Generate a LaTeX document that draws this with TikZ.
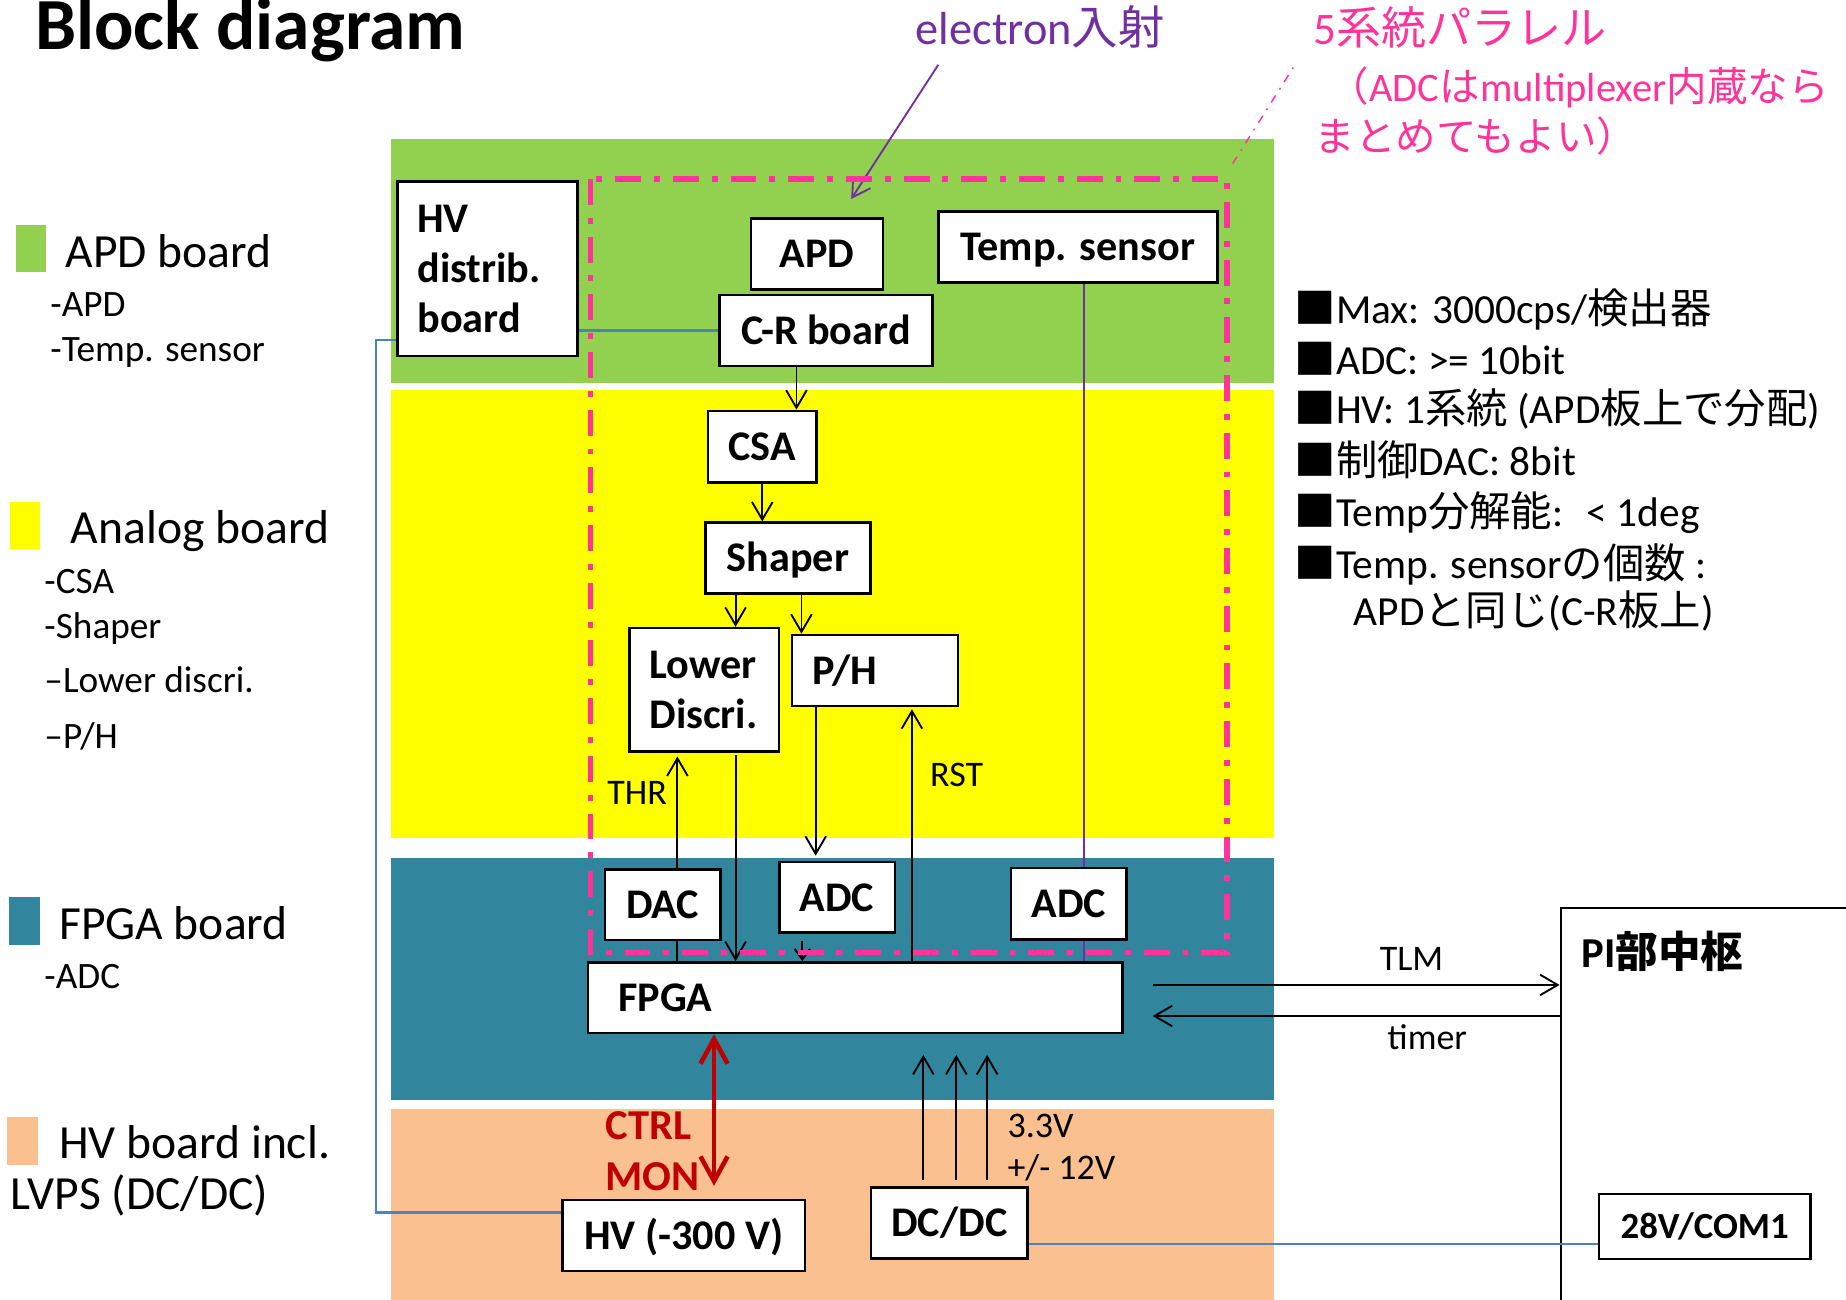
\documentclass[tikz,border=0pt]{standalone}
\usepackage{fontspec}
\setmainfont{Carlito}
\newfontfamily\jp{Noto Sans CJK JP}
\usetikzlibrary{arrows.meta}

\definecolor{apdgreen}{HTML}{92D050}
\definecolor{anayellow}{HTML}{FFFF00}
\definecolor{fpgateal}{HTML}{31859C}
\definecolor{hvpeach}{HTML}{FAC090}
\definecolor{grppink}{HTML}{FF3399}
\definecolor{epurple}{HTML}{7030A0}
\definecolor{hvblue}{HTML}{4F81BD}
\definecolor{ctrlred}{HTML}{C00000}

\newcommand{\fsz}[2]{\fontsize{#1}{#2}\selectfont}

\begin{document}
\begin{tikzpicture}[x=0.1mm,y=-0.1mm,line width=0.45pt,
  >={Straight Barb[length=1.5mm,width=1.75mm]},
  blk/.style={draw,fill=white,line width=0.6pt,inner xsep=1.7mm,
    font=\fsz{10.2}{12.1}\bfseries,text height=6.6pt,text depth=0pt},
  blkml/.style={draw,fill=white,line width=0.6pt,inner xsep=1.7mm,
    font=\fsz{10.2}{12.1}\bfseries,align=left},
  txt/.style={inner sep=0pt,anchor=base west},
  lbl/.style={font=\fsz{8.7}{10.4}},
  hvline/.style={hvblue,line width=0.6pt},
  tsline/.style={epurple,line width=0.55pt},
  ctrl/.style={ctrlred,line width=1.1pt,
    {Straight Barb[length=2.1mm,width=2.3mm]}-{Straight Barb[length=2.1mm,width=2.3mm]}},
  grpline/.style={grppink,line width=1.35pt,
    dash pattern=on 2.2mm off 1.1mm on 0.5mm off 1.1mm}]

\useasboundingbox (0,0) rectangle (1568,1104);
\clip (0,0) rectangle (1568,1104);

%--------------------
% 基板
%--------------------
\fill[apdgreen] (332,118) rectangle (1082,325);
\fill[anayellow] (332,331.5) rectangle (1082,712);
\fill[fpgateal] (332,729) rectangle (1082,934);
\fill[hvpeach] (332,942) rectangle (1082,1110);

% タイトル
\node[txt,font=\fsz{17.75}{21}\bfseries] (title) at (29,42) {Block diagram};

%--------------------
% 凡例
%--------------------
\fill[apdgreen] (14,191) rectangle (39,231);
\node[txt,font=\fsz{11.5}{13.8}] (lgApd) at (55,227.4) {APD board};
\node[txt,font=\fsz{9}{10.8}] (lgApdA) at (42,269) {-APD};
\node[txt,font=\fsz{9}{10.8}] (lgApdB) at (42,307) {-Temp. sensor};

\fill[anayellow] (8.5,426) rectangle (34,466);
\node[txt,font=\fsz{11.5}{13.8}] (lgAna) at (59.5,462) {Analog board};
\node[txt,font=\fsz{9}{10.8}] (lgAnaA) at (37,504) {-CSA};
\node[txt,font=\fsz{9}{10.8}] (lgAnaB) at (37,542) {-Shaper};
\node[txt,font=\fsz{9}{10.8}] (lgAnaC) at (37,588) {–Lower discri.};
\node[txt,font=\fsz{9}{10.8}] (lgAnaD) at (37,636) {–P/H};

\fill[fpgateal] (8,761.6) rectangle (34,802.7);
\node[txt,font=\fsz{11.5}{13.8}] (lgFpga) at (49.5,798.4) {FPGA board};
\node[txt,font=\fsz{9}{10.8}] (lgFpgaA) at (37,839.4) {-ADC};

\fill[hvpeach] (6,948.5) rectangle (32,989.5);
\node[txt,font=\fsz{11.5}{13.8}] (lgHv) at (49.5,983.7) {HV board incl.};
\node[txt,font=\fsz{11.5}{13.8}] (lgHvB) at (8.5,1027.7) {LVPS (DC/DC)};

%--------------------
% 注記
%--------------------
\node[txt,epurple,font=\fsz{11.2}{13.4}] (elec) at (777,38) {electron{\jp 入射}};
\node[txt,grppink,font=\fsz{10.9}{13}] (grpNote) at (1115,38) {5{\jp 系統パラレル}};
\node[txt,grppink,font=\fsz{9.8}{11.8}] (grpNoteB) at (1128,86.4)
  {{\jp （}ADC{\jp は}multiplexer{\jp 内蔵なら}};
\node[txt,grppink,font=\fsz{9.8}{11.8}] (grpNoteC) at (1116,129) {{\jp まとめてもよい）}};

\node[txt,font=\fsz{10}{12}] (spec1) at (1099,275) {{\jp ■}Max: 3000cps/{\jp 検出器}};
\node[txt,font=\fsz{10}{12}] (spec2) at (1099,318) {{\jp ■}ADC: >= 10bit};
\node[txt,font=\fsz{10}{12}] (spec3) at (1099,360) {{\jp ■}HV: 1{\jp 系統} (APD{\jp 板上で分配})};
\node[txt,font=\fsz{10}{12}] (spec4) at (1099,403.5) {{\jp ■制御}DAC: 8bit};
\node[txt,font=\fsz{10}{12}] (spec5) at (1099,447.4) {{\jp ■}Temp{\jp 分解能}:\hspace{2mm}< 1deg};
\node[txt,font=\fsz{10}{12}] (spec6) at (1099,491) {{\jp ■}Temp. sensor{\jp の個数} :};
\node[txt,font=\fsz{10}{12}] (spec7) at (1149,531) {APD{\jp と同じ}(C-R{\jp 板上})};

%--------------------
% ブロック
%--------------------
\node[blkml,text width=11.9mm,minimum height=14.8mm] (hvd) at (414,228.3) {HV\\distrib.\\board};
\node[blk,minimum width=11.2mm,minimum height=6mm] (apd) at (694,215.7) {APD};
\node[blk,minimum width=18.1mm,minimum height=6.05mm] (cr) at (701.5,280.8) {C-R board};
\node[blk,minimum width=23.7mm,minimum height=6.05mm] (temp) at (915.5,209.8) {Temp. sensor};
\node[blk,minimum width=9.2mm,minimum height=6.1mm] (csa) at (647.5,379.5) {CSA};
\node[blk,minimum width=14mm,minimum height=6mm] (shaper) at (669.2,474) {Shaper};
\node[blkml,text width=9.3mm,minimum height=10.5mm] (ld) at (598.2,586) {Lower\\Discri.};
\node[blk,text width=10.7mm,minimum height=6.05mm] (ph) at (743.3,569.6) {P/H};
\node[blk,minimum width=9.8mm,minimum height=6mm] (dac) at (563,768.4) {DAC};
\node[blk,minimum width=9.8mm,minimum height=6mm] (adc1) at (711,762.2) {ADC};
\node[blk,minimum width=9.8mm,minimum height=6.05mm] (adc2) at (907.8,767.6) {ADC};
\node[blk,text width=40.3mm,inner xsep=2.55mm,minimum height=6mm] (fpga) at (726.6,847.4) {FPGA};
\node[blk,minimum width=20.6mm,minimum height=6.03mm] (hv) at (580.8,1049.5) {HV (-300 V)};
\node[blk,minimum width=13.3mm,minimum height=6.02mm] (dcdc) at (806.4,1038.9) {DC/DC};

% PI部中枢
\node[draw,line width=0.5pt,anchor=north west,minimum width=40mm,minimum height=50mm] (pi) at (1324.7,770) {};
\node[txt,font=\fsz{10.3}{12.4}\bfseries] (piLbl) at (1342.5,821.5) {PI{\jp 部中枢}};
\node[blk,minimum width=18mm,minimum height=5.5mm,font=\fsz{8.9}{10.7}\bfseries,text height=5.7pt] (v28) at (1448,1041.8) {28V/COM1};

%--------------------
% 配線
%--------------------
% HV系
\draw[hvline] (cr.west) -- (cr.west -| hvd.east);
\draw[hvline] ([yshift=-6.07mm]hvd.west) -- ++(-17,0) |- ([yshift=1.95mm]hv.west);
\draw[hvline] ([yshift=-1.76mm]dcdc.east) -- ([yshift=-1.76mm]dcdc.east -| v28.west);

% 信号
\draw[->] ([xshift=2.9mm]csa.north |- cr.south) -- ([xshift=2.9mm]csa.north);
\draw[->] (csa.south) -- (csa.south |- shaper.north);
\draw[->] ([xshift=2.66mm]ld.north |- shaper.south) -- ([xshift=2.66mm]ld.north);
\draw[->] ([xshift=0.9mm]ph.north west |- shaper.south) -- ([xshift=0.9mm]ph.north west);

\draw[->] ([xshift=1.24mm]dac.north) -- ([xshift=1.24mm,yshift=-0.3mm]dac.north |- ld.south)
  node[lbl,left,pos=0.67,xshift=0.35mm] (thr) {THR};
\draw ([xshift=1.24mm]dac.south) -- ([xshift=1.24mm]dac.south |- fpga.north);
\draw[->] ([xshift=2.66mm,yshift=-0.2mm]ld.south) -- ([xshift=2.66mm]ld.south |- fpga.north);
\draw[->] ([xshift=2.11mm]ph.south west) -- ([xshift=2.11mm,yshift=0.43mm]ph.south west |- adc1.north);
\draw[-{Straight Barb[length=0.9mm,width=1.3mm]}] ([xshift=-2.95mm,yshift=-0.6mm]adc1.south)
  -- ([xshift=-2.95mm]adc1.south |- fpga.north);
\draw[->] ([xshift=3.13mm]ph.south |- fpga.north) -- ([xshift=3.13mm,yshift=-0.15mm]ph.south)
  node[lbl,right,pos=0.74,xshift=0.3mm] (rst) {RST};

% 温度センサ
\draw[tsline] ([xshift=1.29mm]adc2.north |- temp.south) -- ([xshift=1.29mm]adc2.north);
\draw[tsline] ([xshift=1.29mm]adc2.south) -- ([xshift=1.29mm]adc2.south |- fpga.north);

% PI部との通信
\draw[->] ([xshift=2.45mm,yshift=1.08mm]fpga.east) -- ([yshift=1.08mm]fpga.east -| pi.west)
  node[lbl,above,pos=0.636] (tlm) {TLM};
\draw[->] ([yshift=-1.56mm]fpga.east -| pi.west) -- ([xshift=2.45mm,yshift=-1.56mm]fpga.east)
  node[lbl,below,pos=0.325,yshift=0.5mm] (timer) {timer};

% HV制御・モニタ
\draw[ctrl] ([xshift=2.57mm]hv.north |- fpga.south) -- ([xshift=2.57mm,yshift=1.1mm]hv.north);
\node[txt,ctrlred,font=\fsz{10.3}{12.4}\bfseries] (ctrlLbl) at (513.5,967.7) {CTRL};
\node[txt,ctrlred,font=\fsz{10.3}{12.4}\bfseries] (monLbl) at (513.5,1011) {MON};

% 電源
\foreach \dx in {-2.21,0.59,3.21}
  \draw[->] ([xshift=\dx mm,yshift=0.58mm]dcdc.north)
    -- ([xshift=\dx mm,yshift=-1.76mm]dcdc.north |- fpga.south);
\node[txt,lbl] (v33) at (855,966.3) {3.3V};
\node[txt,lbl] (v12) at (855,1002) {+/- 12V};

% 電子入射
\coordinate (eStart) at (797,55);
\coordinate (eTip) at (723,169);
\draw[->,epurple] (eStart) -- (eTip);

%--------------------
% 5系統パラレルの範囲
%--------------------
\draw[grpline] (501.5,152) rectangle (1042,809);
\coordinate (grpCorner) at (1047,139);
\coordinate (grpTip) at (1100,55);
\draw[grppink,line width=0.35pt,dash pattern=on 0.7mm off 0.6mm on 0.15mm off 0.6mm]
  (grpCorner) -- (grpTip);

\end{tikzpicture}
\end{document}
